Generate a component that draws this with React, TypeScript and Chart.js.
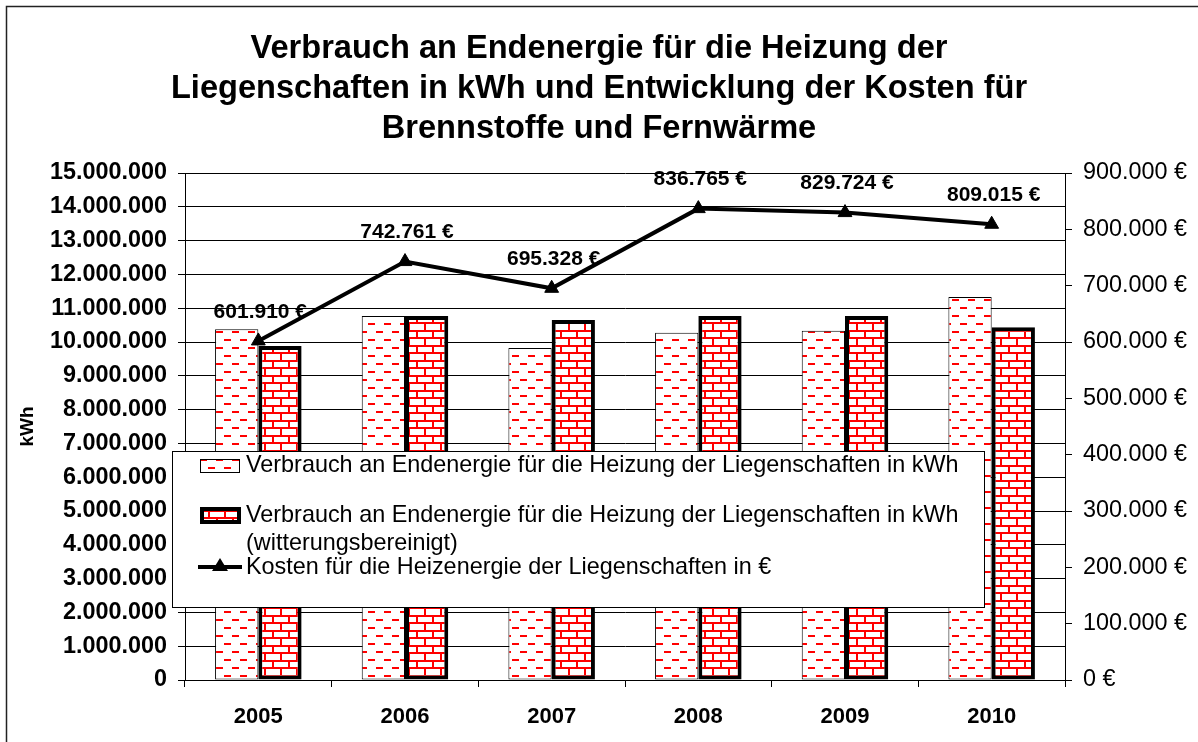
import React, { useEffect, useRef } from "react";
import { Chart, registerables } from "chart.js";

Chart.register(...registerables);

const years = ["2005", "2006", "2007", "2008", "2009", "2010"];
const verbrauch = [10380000, 10770000, 9820000, 10270000, 10330000, 11330000];
const verbrauchBereinigt = [9880000, 10770000, 10650000, 10770000, 10770000, 10440000];
const kosten = [601910, 742761, 695328, 836765, 829724, 809015];
const titleLines = [
  "Verbrauch an Endenergie für die Heizung der",
  "Liegenschaften in kWh und Entwicklung der Kosten für",
  "Brennstoffe und Fernwärme",
];
const legendLabels = [
  ["Verbrauch an Endenergie für die Heizung der Liegenschaften in kWh"],
  ["Verbrauch an Endenergie für die Heizung der Liegenschaften in kWh", "(witterungsbereinigt)"],
  ["Kosten für die Heizenergie der Liegenschaften in €"],
];

const FONT = '"Liberation Sans", Arial, sans-serif';

const fmt = (v: number) => String(Math.round(v)).replace(/\B(?=(\d{3})+(?!\d))/g, ".");

function makeDashPattern(ctx: CanvasRenderingContext2D) {
  const c = document.createElement("canvas");
  c.width = 16;
  c.height = 16;
  const g = c.getContext("2d")!;
  g.fillStyle = "#fff";
  g.fillRect(0, 0, 16, 16);
  g.fillStyle = "#ff0000";
  g.fillRect(0, 3, 7, 2);
  g.fillRect(8, 11, 7, 2);
  return ctx.createPattern(c, "repeat")!;
}

function makeBrickPattern(ctx: CanvasRenderingContext2D) {
  const c = document.createElement("canvas");
  c.width = 16;
  c.height = 15;
  const g = c.getContext("2d")!;
  g.fillStyle = "#fff";
  g.fillRect(0, 0, 16, 15);
  g.fillStyle = "#ff0000";
  g.fillRect(0, 0, 16, 2);
  g.fillRect(0, 7, 16, 2);
  g.fillRect(0, 0, 2, 8);
  g.fillRect(8, 7, 2, 8);
  return ctx.createPattern(c, "repeat")!;
}

export default function App() {
  const ref = useRef<HTMLCanvasElement>(null);

  useEffect(() => {
    const canvas = ref.current!;
    const ctx = canvas.getContext("2d")!;
    const dash = makeDashPattern(ctx);
    const brick = makeBrickPattern(ctx);

    const decorPlugin = {
      id: "decor",
      afterDatasetsDraw(chart: any) {
        const c = chart.ctx;
        const meta = chart.getDatasetMeta(2);
        c.save();
        c.font = `bold 21px ${FONT}`;
        c.fillStyle = "#000";
        c.textAlign = "center";
        c.textBaseline = "middle";
        meta.data.forEach((pt: any, i: number) => {
          c.fillText(`${fmt(kosten[i])} €`, pt.x + 2, pt.y - 29);
        });
        c.restore();
      },
      afterDraw(chart: any) {
        const c = chart.ctx;
        c.save();
        // frame
        c.strokeStyle = "#222";
        c.lineWidth = 1.5;
        c.beginPath();
        c.moveTo(6.5, 742);
        c.lineTo(6.5, 6.5);
        c.lineTo(1198, 6.5);
        c.stroke();
        // title
        c.font = `bold 32.6px ${FONT}`;
        c.fillStyle = "#000";
        c.textAlign = "center";
        c.textBaseline = "middle";
        titleLines.forEach((t, i) => c.fillText(t, 599, 49 + i * 40));
        // legend box
        c.fillStyle = "#fff";
        c.fillRect(172, 451, 813, 157);
        c.strokeStyle = "#000";
        c.lineWidth = 1;
        c.strokeRect(172.5, 451.5, 812, 156);
        // item 1
        c.fillStyle = dash;
        c.fillRect(200, 459, 40, 14);
        c.strokeRect(200.5, 459.5, 39, 13);
        // item 2
        c.fillStyle = brick;
        c.fillRect(200, 507, 41, 17);
        c.lineWidth = 4;
        c.strokeRect(202, 509, 37, 13);
        // item 3
        c.beginPath();
        c.moveTo(198, 567);
        c.lineTo(242, 567);
        c.stroke();
        c.fillStyle = "#000";
        c.beginPath();
        c.moveTo(220, 558);
        c.lineTo(228, 571);
        c.lineTo(212, 571);
        c.closePath();
        c.fill();
        // texts
        c.font = `23.4px ${FONT}`;
        c.textAlign = "left";
        c.fillText(legendLabels[0][0], 246, 466);
        c.fillText(legendLabels[1][0], 246, 516);
        c.fillText(legendLabels[1][1], 246, 544);
        c.fillText(legendLabels[2][0], 246, 568);
        c.restore();
      },
    };

    const chart = new Chart(canvas, {
      type: "bar",
      data: {
        labels: years,
        datasets: [
          {
            type: "bar",
            label: legendLabels[0][0],
            data: verbrauch,
            backgroundColor: dash,
            borderColor: "#000",
            borderWidth: 1,
            borderSkipped: false,
            yAxisID: "y",
            order: 1,
            categoryPercentage: 0.59,
            barPercentage: 1,
          },
          {
            type: "bar",
            label: legendLabels[1].join(" "),
            data: verbrauchBereinigt,
            backgroundColor: brick,
            borderColor: "#000",
            borderWidth: 4,
            borderSkipped: false,
            yAxisID: "y",
            order: 1,
            categoryPercentage: 0.59,
            barPercentage: 1,
          },
          {
            type: "line",
            label: legendLabels[2][0],
            data: kosten,
            borderColor: "#000",
            borderWidth: 4,
            pointStyle: "triangle",
            pointRadius: 8,
            pointBackgroundColor: "#000",
            pointBorderColor: "#000",
            pointBorderWidth: 1,
            tension: 0,
            yAxisID: "y1",
            order: 0,
          },
        ] as any,
      },
      options: {
        responsive: false,
        animation: false,
        events: [],
        layout: { padding: { top: 173, left: 0, right: 0, bottom: 0 } },
        plugins: {
          legend: { display: false },
          tooltip: { enabled: false },
          title: { display: false },
        },
        scales: {
          x: {
            offset: true,
            grid: { offset: true, drawOnChartArea: false, color: "#000", tickLength: 7 },
            border: { color: "#000", width: 1 },
            ticks: { color: "#000", font: { family: FONT, size: 22, weight: "bold" }, padding: 17 },
            afterFit: (s: any) => {
              s.height = 62;
            },
          },
          y: {
            position: "left",
            min: 0,
            max: 15000000,
            grid: { color: "#000", tickLength: 7, lineWidth: 1 },
            border: { color: "#000", width: 1 },
            ticks: {
              stepSize: 1000000,
              color: "#000",
              font: { family: FONT, size: 23.4, weight: "bold" },
              padding: 11,
              callback: (v: any) => fmt(Number(v)),
            },
            title: {
              display: true,
              text: "kWh",
              color: "#000",
              font: { family: FONT, size: 19, weight: "bold" },
              padding: { top: 16, bottom: 0 },
            },
            afterFit: (s: any) => {
              s.width = 185;
            },
          },
          y1: {
            position: "right",
            min: 0,
            max: 900000,
            grid: { drawOnChartArea: false, color: "#000", tickLength: 7 },
            border: { color: "#000", width: 1 },
            ticks: {
              stepSize: 100000,
              color: "#000",
              font: { family: FONT, size: 23.4 },
              padding: 11,
              callback: (v: any) => `${fmt(Number(v))} €`,
            },
            afterFit: (s: any) => {
              s.width = 133;
            },
          },
        },
      } as any,
      plugins: [decorPlugin],
    });
    return () => chart.destroy();
  }, []);

  return (
    <div style={{ position: "fixed", left: 0, top: 0, width: 1198, height: 742, background: "#fff" }}>
      <canvas ref={ref} width={1198} height={742} style={{ display: "block", width: 1198, height: 742 }} />
    </div>
  );
}
